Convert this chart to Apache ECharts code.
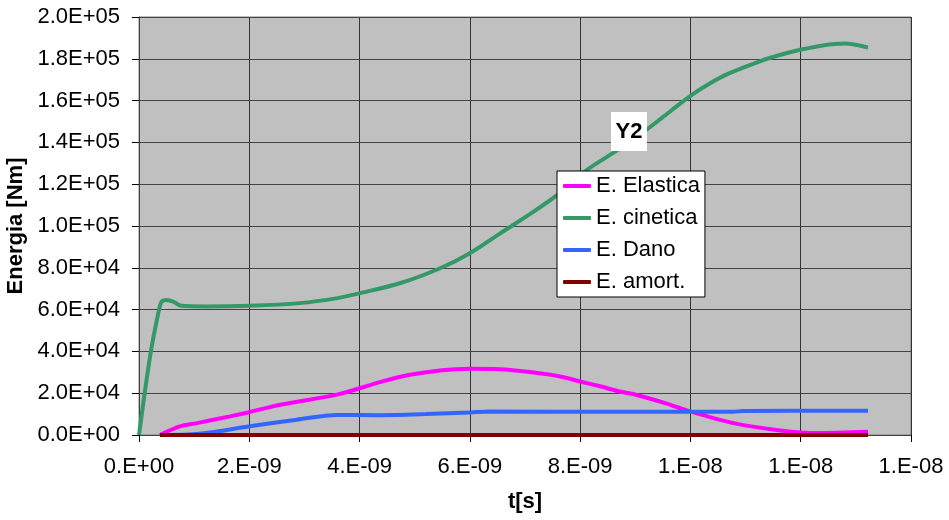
<!DOCTYPE html>
<html>
<head>
<meta charset="utf-8">
<script src="https://cdn.jsdelivr.net/npm/echarts@6/dist/echarts.min.js"></script>
<style>
  html, body { margin: 0; padding: 0; background: #fff; }
  #chart { width: 949px; height: 520px; }
</style>
</head>
<body>
<div id="chart"></div>
<script>
// time in nanoseconds (1 ns = 1E-09 s), energy in Nm
const elasticaT = [0.38, 0.74, 1.05, 1.65, 1.98, 2.56, 3.59, 4.37, 4.91, 5.46, 6.0, 6.55, 7.09, 7.64, 8.0, 8.36, 8.72, 8.96, 9.57, 9.99, 10.78, 11.63, 12.3, 13.22];
const elasticaV = [0, 4100, 5700, 8900, 10800, 14500, 19300, 25300, 28800, 30900, 31700, 31500, 30100, 28000, 25600, 23300, 20800, 19600, 15000, 11300, 5700, 2200, 900, 1500];

const cineticaT = [0, 0.2, 0.35, 0.41, 0.5, 0.62, 0.77, 1.2, 2.0, 2.92, 3.6, 4.0, 4.73, 5.46, 6.0, 6.55, 7.15, 7.58, 8.12, 8.69, 9.21, 9.66, 10.0, 10.35, 10.7, 11.26, 11.62, 11.99, 12.4, 12.8, 13.22];
const cineticaV = [0, 37500, 58300, 63800, 64600, 63800, 61800, 61500, 61800, 63100, 65500, 67800, 72600, 79800, 87000, 96500, 106800, 114800, 126800, 136500, 146200, 155400, 162300, 168200, 173000, 178800, 181800, 184300, 186400, 187300, 185400];

const danoT = [0.38, 0.9, 1.29, 1.98, 2.86, 3.59, 4.37, 5.2, 6.0, 6.36, 8.72, 10.78, 10.95, 13.22];
const danoV = [0, 200, 1200, 4100, 7300, 9600, 9500, 10000, 10800, 11200, 11100, 11100, 11500, 11600];

const amortT = [0.38, 4.0, 8.0, 13.22];
const amortV = [0, 0, 0, 0];

const seriesNames = ['E. Elastica', 'E. cinetica', 'E. Dano', 'E. amort.'];
const xTickLabels = ['0.E+00', '2.E-09', '4.E-09', '6.E-09', '8.E-09', '1.E-08', '1.E-08', '1.E-08'];
const yTickLabels = ['0.0E+00', '2.0E+04', '4.0E+04', '6.0E+04', '8.0E+04', '1.0E+05', '1.2E+05', '1.4E+05', '1.6E+05', '1.8E+05', '2.0E+05'];

function pairs(t, v) { return t.map((x, i) => [x, v[i]]); }

const colors = ['#ff00ff', '#339966', '#3366ff', '#800000'];
const FONT = 'Liberation Sans, Arial, sans-serif';

const chart = echarts.init(document.getElementById('chart'), null, { renderer: 'canvas' });
chart.setOption({
  animation: false,
  backgroundColor: '#ffffff',
  color: colors,
  grid: {
    left: 139, right: 38, top: 17, bottom: 85,
    show: true, backgroundColor: '#c0c0c0', borderColor: '#808080', borderWidth: 1,
    containLabel: false, outerBoundsMode: 'none'
  },
  xAxis: {
    type: 'value', min: 0, max: 14, interval: 2,
    name: 't[s]', nameLocation: 'middle', nameGap: 56,
    nameTextStyle: { fontFamily: FONT, fontSize: 22, fontWeight: 'bold', color: '#000' },
    axisLine: { show: true, lineStyle: { color: '#404040', width: 1 } },
    axisTick: { show: true, length: 7, lineStyle: { color: '#000' } },
    axisLabel: {
      margin: 21, fontFamily: FONT, fontSize: 22, color: '#000',
      formatter: v => xTickLabels[Math.round(v / 2)]
    },
    splitLine: { show: true, lineStyle: { color: '#333', width: 1 } }
  },
  yAxis: {
    type: 'value', min: 0, max: 200000, interval: 20000,
    name: 'Energia [Nm]', nameLocation: 'middle', nameGap: 105, nameRotate: 90,
    nameTextStyle: { fontFamily: FONT, fontSize: 22, fontWeight: 'bold', color: '#000' },
    axisLine: { show: true, lineStyle: { color: '#404040', width: 1 } },
    axisTick: { show: true, length: 7, lineStyle: { color: '#000' } },
    axisLabel: {
      margin: 19, fontFamily: FONT, fontSize: 22, color: '#000',
      formatter: v => yTickLabels[Math.round(v / 20000)]
    },
    splitLine: { show: true, lineStyle: { color: '#444', width: 1 } }
  },
  legend: {
    orient: 'vertical', left: 557, top: 171,
    backgroundColor: '#ffffff', borderColor: '#000', borderWidth: 1,
    padding: [4, 5, 4, 6], itemGap: 10, itemWidth: 28, itemHeight: 4,
    itemStyle: { borderWidth: 0 },
    icon: 'roundRect',
    textStyle: { fontFamily: FONT, fontSize: 22, color: '#000', lineHeight: 22 },
    data: seriesNames
  },
  graphic: [
    { type: 'rect', shape: { x: 611, y: 112, width: 36, height: 39 }, style: { fill: '#fff' }, z: 100 },
    { type: 'text', x: 629, y: 131.5, style: { text: 'Y2', font: 'bold 22px ' + FONT, fill: '#000', align: 'center', verticalAlign: 'middle' }, z: 101 }
  ],
  series: [
    { name: seriesNames[0], type: 'line', data: pairs(elasticaT, elasticaV), showSymbol: false, smooth: 0.3, lineStyle: { width: 4, color: colors[0] } },
    { name: seriesNames[1], type: 'line', data: pairs(cineticaT, cineticaV), showSymbol: false, smooth: 0.3, lineStyle: { width: 4, color: colors[1] } },
    { name: seriesNames[2], type: 'line', data: pairs(danoT, danoV), showSymbol: false, smooth: 0.3, lineStyle: { width: 4, color: colors[2] } },
    { name: seriesNames[3], type: 'line', data: pairs(amortT, amortV), showSymbol: false, smooth: false, lineStyle: { width: 4, color: colors[3] } }
  ]
});
</script>
</body>
</html>
